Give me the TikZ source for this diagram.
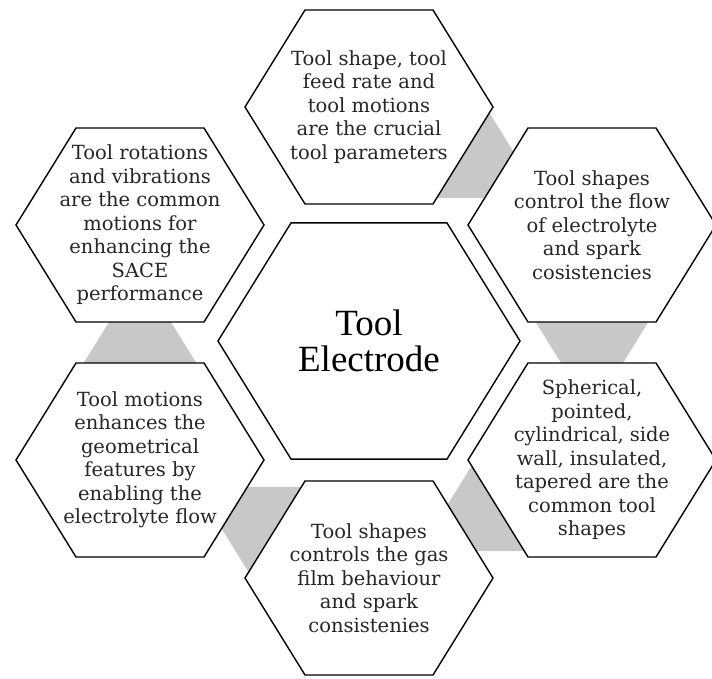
\documentclass[tikz,border=0pt]{standalone}
\usepackage{fontspec}
\setmainfont{DejaVu Serif}
\newfontfamily\titlefont{Liberation Serif}
\usetikzlibrary{calc}

\definecolor{linkgray}{RGB}{200,200,200}

\tikzset{
  cell/.style={draw=black, line width=1.4pt, fill=white, line join=miter},
  link/.style={fill=linkgray},
  celltext/.style={align=center, text=black!85, font=\fontsize{19.5}{23.5}\selectfont},
  titletext/.style={align=center, font=\titlefont\fontsize{37}{36}\selectfont},
}

% corners of a hexagon: name, centre, size
\newcommand{\hexcell}[3]{%
  \coordinate (#1) at (#2);
  \path (#1) ++(-124*#3,0) coordinate (#1-w)
        (#1) ++(-64*#3,-97*#3) coordinate (#1-nw)
        (#1) ++(64*#3,-97*#3) coordinate (#1-ne)
        (#1) ++(124*#3,0) coordinate (#1-e)
        (#1) ++(64*#3,97*#3) coordinate (#1-se)
        (#1) ++(-64*#3,97*#3) coordinate (#1-sw);
}

% grey band leaving the side X--Y, running along the sides X'X and Y'Y
\newcommand{\linkbar}[4]{%
  \fill[link] ($(#2)!.06!(#3)$) -- ($(#3)!.06!(#2)$)
    -- ($(#3)!.06!(#2)+.6*(#3)-.6*(#4)$)
    -- ($(#2)!.06!(#3)+.6*(#2)-.6*(#1)$) -- cycle;
}

\begin{document}
\begin{tikzpicture}[x=1pt, y=-1pt]
  \useasboundingbox (0,0) rectangle (712,679);

  % Hexagones
  \hexcell{MID}{369,341}{1.218}
  \hexcell{TOP}{369,107}{1}
  \hexcell{UR}{592,225}{1}
  \hexcell{LR}{592,460}{1}
  \hexcell{BOT}{369,578}{1}
  \hexcell{LL}{140,460}{1}
  \hexcell{UL}{140,225}{1}

  % Liens gris
  \linkbar{TOP-ne}{TOP-e}{TOP-se}{TOP-sw}
  \linkbar{UR-w}{UR-sw}{UR-se}{UR-e}
  \linkbar{LR-nw}{LR-w}{LR-sw}{LR-se}
  \linkbar{BOT-ne}{BOT-nw}{BOT-w}{BOT-sw}
  \linkbar{LL-w}{LL-nw}{LL-ne}{LL-e}

  \foreach \h in {MID,TOP,UR,LR,BOT,LL,UL}
    \draw[cell] (\h-w) -- (\h-nw) -- (\h-ne) -- (\h-e) -- (\h-se) -- (\h-sw) -- cycle;

  % Textes
  \node[titletext] (MIDtext) at (MID) {Tool\\Electrode};
  \node[celltext] (TOPtext) at (TOP) {Tool shape, tool\\feed rate and\\tool motions\\are the crucial\\tool parameters};
  \node[celltext] (URtext) at (UR) {Tool shapes\\control the flow\\of electrolyte\\and spark\\cosistencies};
  \node[celltext] (LRtext) at (LR) {Spherical,\\pointed,\\cylindrical, side\\wall, insulated,\\tapered are the\\common tool\\shapes};
  \node[celltext] (BOTtext) at (BOT) {Tool shapes\\controls the gas\\film behaviour\\and spark\\consistenies};
  \node[celltext] (LLtext) at (LL) {Tool motions\\enhances the\\geometrical\\features by\\enabling the\\electrolyte flow};
  \node[celltext] (ULtext) at (UL) {Tool rotations\\and vibrations\\are the common\\motions for\\enhancing the\\SACE\\performance};
\end{tikzpicture}
\end{document}
